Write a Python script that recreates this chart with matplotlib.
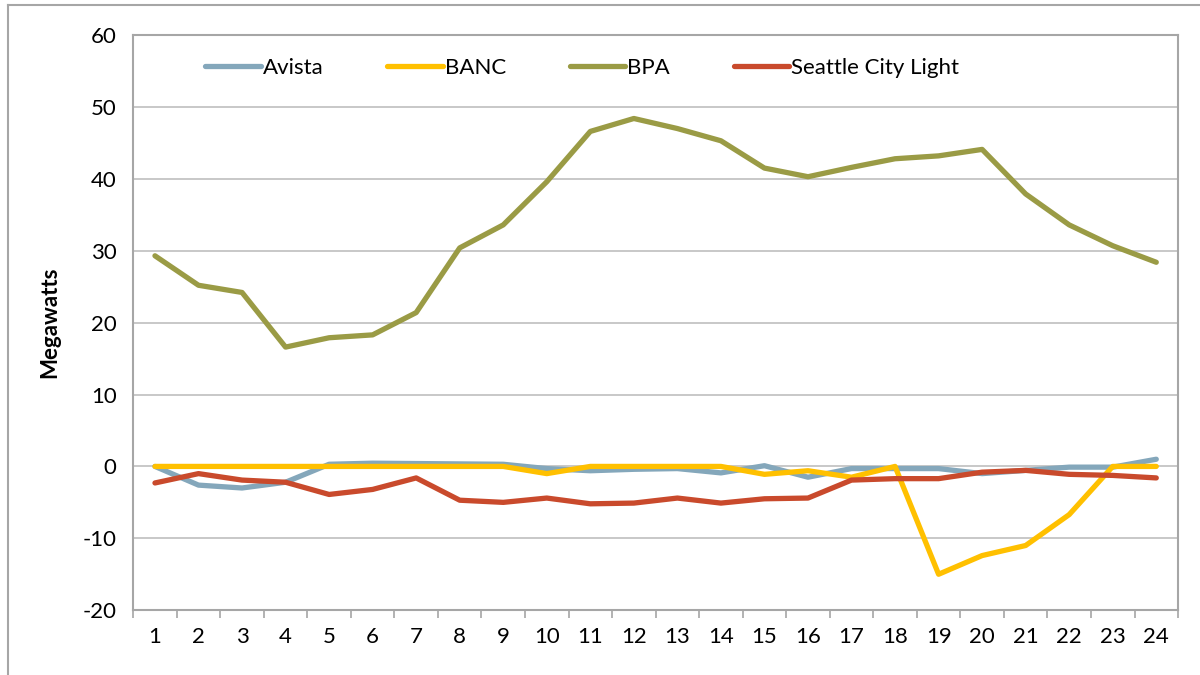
import numpy as np
import matplotlib
matplotlib.use('Agg')
import matplotlib.pyplot as plt
from matplotlib.lines import Line2D

plt.rcParams['font.family'] = ['Lato', 'DejaVu Sans']
plt.rcParams['axes.unicode_minus'] = False

# Hour of day
hours = list(range(1, 25))

# Megawatts per balancing authority
avista = [0.0, -2.6, -3.0, -2.2, 0.3, 0.45, 0.4, 0.35, 0.3, -0.3, -0.6, -0.4,
          -0.3, -0.9, 0.1, -1.5, -0.3, -0.3, -0.3, -1.0, -0.55, -0.1, -0.1, 1.0]
banc = [0.0, 0.0, 0.0, 0.0, 0.0, 0.0, 0.0, 0.0, 0.0, -1.0, 0.0, 0.0,
        0.0, 0.0, -1.1, -0.6, -1.5, 0.0, -15.0, -12.4, -11.0, -6.7, 0.0, 0.0]
bpa = [29.3, 25.2, 24.2, 16.6, 17.9, 18.3, 21.4, 30.4, 33.6, 39.6, 46.6, 48.4,
       47.0, 45.3, 41.5, 40.3, 41.6, 42.8, 43.2, 44.1, 37.9, 33.6, 30.7, 28.4]
seattle = [-2.3, -1.0, -1.9, -2.2, -3.9, -3.2, -1.6, -4.7, -5.0, -4.4, -5.2, -5.1,
           -4.4, -5.1, -4.5, -4.4, -1.9, -1.7, -1.7, -0.8, -0.55, -1.1, -1.25, -1.6]

names = ['Avista', 'BANC', 'BPA', 'Seattle City Light']
colors = ['#84A7BB', '#FFC000', '#9A9B45', '#C94A2C']
series = [avista, banc, bpa, seattle]

fig = plt.figure(figsize=(12, 6.75), dpi=100)
ax = fig.add_axes([0.111, 0.096, 0.8707, 0.852])

# outer chart frame (only top and left visible)
fig.add_artist(Line2D([8/1200, 1.0], [1 - 5/675, 1 - 5/675], color='#A6A6A6', lw=1.5))
fig.add_artist(Line2D([8/1200, 8/1200], [0, 1 - 5/675], color='#A6A6A6', lw=1.5))

for vals, c, n in zip(series, colors, names):
    ax.plot(hours, vals, color=c, lw=3.8, label=n, solid_capstyle='round', zorder=3)

ax.set_xlim(0.5, 24.5)
ax.set_ylim(-20, 60)
ax.set_yticks(range(-20, 61, 10))
ax.set_xticks(hours)
ax.set_xticks(np.arange(0.5, 25, 1), minor=True)
ax.tick_params(axis='x', which='major', length=0, labelsize=16, pad=12)
ax.tick_params(axis='x', which='minor', length=6, color='#A6A6A6', width=1.2)
ax.tick_params(axis='y', length=0, labelsize=16, pad=12)
ax.grid(axis='y', color='#BFBFBF', lw=1.2)
ax.set_axisbelow(True)
for s in ax.spines.values():
    s.set_color('#A6A6A6')
    s.set_linewidth(1.5)

ax.set_ylabel('Megawatts', fontsize=16, fontweight='bold', labelpad=16)

ax.legend(loc='upper left', bbox_to_anchor=(0.05, 0.995), ncol=4, frameon=False,
          fontsize=16, handlelength=2.5, handletextpad=0.1, columnspacing=2.85)

fig.savefig('out.png', dpi=100)
